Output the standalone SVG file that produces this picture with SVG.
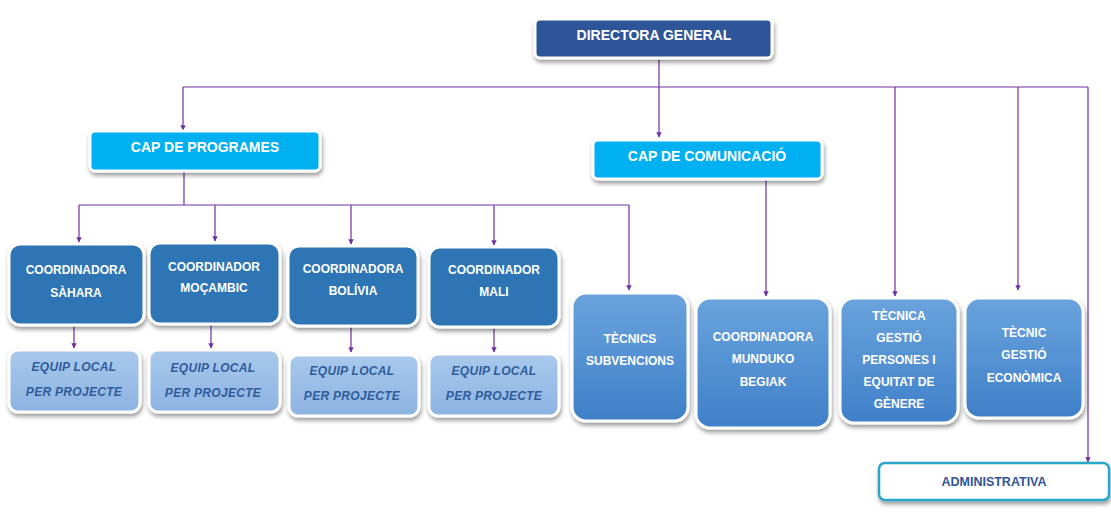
<svg xmlns="http://www.w3.org/2000/svg" width="1111" height="524" viewBox="0 0 1111 524">
<defs>
<filter id="sh" x="-20%" y="-20%" width="140%" height="150%">
<feDropShadow dx="1" dy="3" stdDeviation="2" flood-color="#000" flood-opacity="0.4"/>
</filter>
<linearGradient id="gMid" x1="0" y1="0" x2="0" y2="1">
<stop offset="0" stop-color="#6AA3DD"/>
<stop offset="1" stop-color="#3F80C9"/>
</linearGradient>
<linearGradient id="gLight" x1="0" y1="0" x2="0" y2="1">
<stop offset="0" stop-color="#A9C9EC"/>
<stop offset="1" stop-color="#8DB3E2"/>
</linearGradient>
<marker id="ar" viewBox="0 0 10 10" refX="9" refY="5" markerWidth="4.5" markerHeight="4.5" orient="auto">
<path d="M0,0 L10,5 L0,10 z" fill="#7030A0"/>
</marker>
<style>
.box{stroke:#fff;stroke-width:3;filter:url(#sh)}
.dark{fill:#2F5597}
.cyan{fill:#00B0F0}
.coord{fill:#2E75B6}
.mid{fill:url(#gMid)}
.light{fill:url(#gLight)}
.t{font-family:"Liberation Sans",Arial,sans-serif;font-weight:bold;fill:#fff;text-anchor:middle}
.it{font-family:"Liberation Sans",Arial,sans-serif;font-weight:bold;font-style:italic;fill:#2E5C9A;text-anchor:middle;font-size:12px;letter-spacing:0.3px}
.c line,.c path{stroke:#7030A0;stroke-width:1.2;fill:none}
.a{marker-end:url(#ar)}
</style>
</defs>
<rect width="1111" height="524" fill="#fff"/>

<g id="connectors" class="c">
<path d="M659,58 V87"/>
<path d="M183,87 H1088"/>
<path class="a" d="M183,87 V130"/>
<path class="a" d="M659,87 V137"/>
<path class="a" d="M895,87 V296"/>
<path class="a" d="M1018,87 V290"/>
<path class="a" d="M1088,87 V462"/>
<path d="M184,171 V205"/>
<path d="M79,205 H629"/>
<path class="a" d="M79,205 V242"/>
<path class="a" d="M215,205 V241"/>
<path class="a" d="M351,205 V244"/>
<path class="a" d="M494,205 V245"/>
<path class="a" d="M629,205 V290"/>
<path class="a" d="M766,179 V296"/>
<path class="a" d="M74,325 V348"/>
<path class="a" d="M211,324 V348"/>
<path class="a" d="M351,326 V352"/>
<path class="a" d="M494,327 V352"/>
</g>

<g id="directora">
<rect class="box dark" x="535" y="19" width="237" height="39" rx="5"/>
<text class="t" x="654" y="40" font-size="14">DIRECTORA GENERAL</text>
</g>

<g id="cap-programes">
<rect class="box cyan" x="90" y="131" width="230" height="40" rx="5"/>
<text class="t" x="205" y="152" font-size="14">CAP DE PROGRAMES</text>
</g>

<g id="cap-comunicacio">
<rect class="box cyan" x="593" y="140" width="229" height="39" rx="5"/>
<text class="t" x="707" y="161" font-size="14">CAP DE COMUNICACIÓ</text>
</g>

<g id="coord-sahara">
<rect class="box coord" x="9" y="244" width="135" height="81" rx="11"/>
<text class="t" x="76" y="274" font-size="12">COORDINADORA</text>
<text class="t" x="76" y="297" font-size="12">SÀHARA</text>
</g>
<g id="coord-mocambic">
<rect class="box coord" x="149" y="243" width="131" height="81" rx="11"/>
<text class="t" x="214" y="271" font-size="12">COORDINADOR</text>
<text class="t" x="214" y="292" font-size="12">MOÇAMBIC</text>
</g>
<g id="coord-bolivia">
<rect class="box coord" x="288" y="246" width="130" height="80" rx="11"/>
<text class="t" x="353" y="273" font-size="12">COORDINADORA</text>
<text class="t" x="353" y="295" font-size="12">BOLÍVIA</text>
</g>
<g id="coord-mali">
<rect class="box coord" x="429" y="247" width="130" height="80" rx="11"/>
<text class="t" x="494" y="274" font-size="12">COORDINADOR</text>
<text class="t" x="494" y="296" font-size="12">MALI</text>
</g>

<g id="equip-1">
<rect class="box light" x="9" y="350" width="131" height="62" rx="9"/>
<text class="it" x="74" y="371">EQUIP LOCAL</text>
<text class="it" x="74" y="396">PER PROJECTE</text>
</g>
<g id="equip-2">
<rect class="box light" x="149" y="350" width="131" height="62" rx="9"/>
<text class="it" x="213" y="372">EQUIP LOCAL</text>
<text class="it" x="213" y="397">PER PROJECTE</text>
</g>
<g id="equip-3">
<rect class="box light" x="289" y="355" width="130" height="61" rx="9"/>
<text class="it" x="352" y="375">EQUIP LOCAL</text>
<text class="it" x="352" y="400">PER PROJECTE</text>
</g>
<g id="equip-4">
<rect class="box light" x="429" y="354" width="130" height="62" rx="9"/>
<text class="it" x="494" y="375">EQUIP LOCAL</text>
<text class="it" x="494" y="400">PER PROJECTE</text>
</g>

<g id="tecnics-subvencions">
<rect class="box mid" x="572" y="293" width="116" height="128" rx="14"/>
<text class="t" x="630" y="343" font-size="12">TÈCNICS</text>
<text class="t" x="630" y="365" font-size="12">SUBVENCIONS</text>
</g>
<g id="munduko">
<rect class="box mid" x="696" y="298" width="134" height="130" rx="14"/>
<text class="t" x="763" y="341" font-size="12">COORDINADORA</text>
<text class="t" x="763" y="363" font-size="12">MUNDUKO</text>
<text class="t" x="763" y="386" font-size="12">BEGIAK</text>
</g>
<g id="tecnica-gestio">
<rect class="box mid" x="840" y="298" width="118" height="125" rx="14"/>
<text class="t" x="899" y="320" font-size="12">TÈCNICA</text>
<text class="t" x="899" y="342" font-size="12">GESTIÓ</text>
<text class="t" x="899" y="364" font-size="12">PERSONES I</text>
<text class="t" x="899" y="386" font-size="12">EQUITAT DE</text>
<text class="t" x="899" y="408" font-size="12">GÈNERE</text>
</g>
<g id="tecnic-gestio">
<rect class="box mid" x="965" y="298" width="118" height="120" rx="14"/>
<text class="t" x="1024" y="337" font-size="12">TÈCNIC</text>
<text class="t" x="1024" y="359" font-size="12">GESTIÓ</text>
<text class="t" x="1024" y="382" font-size="12">ECONÒMICA</text>
</g>

<g id="administrativa">
<rect x="879" y="463" width="230" height="37" rx="6" fill="#fff" stroke="#2BA6CB" stroke-width="2.5" filter="url(#sh)"/>
<text x="994" y="486" font-family="Liberation Sans,Arial,sans-serif" font-weight="bold" font-size="12.5" fill="#2F5597" text-anchor="middle">ADMINISTRATIVA</text>
</g>
</svg>
